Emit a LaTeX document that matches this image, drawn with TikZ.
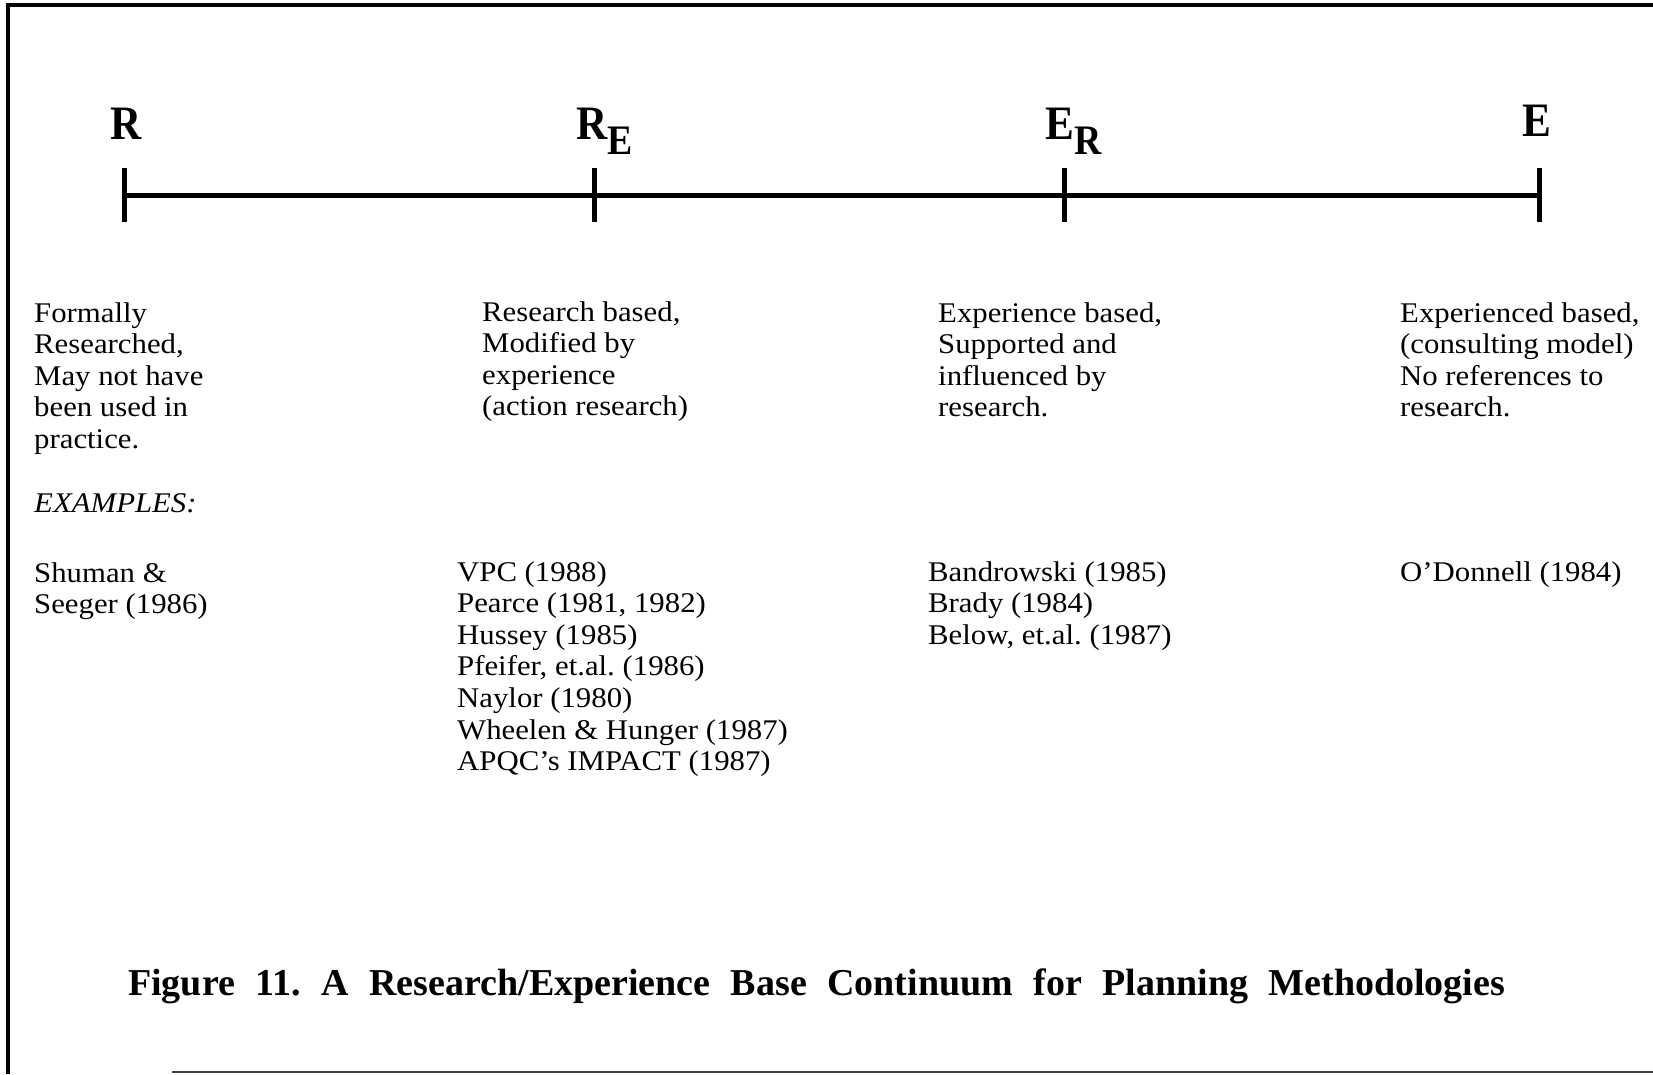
\documentclass[tikz,border=0pt]{standalone}
\usepackage{fontspec}
\setmainfont{Liberation Serif}[FakeStretch=1.08]
\newfontfamily\capfont{Liberation Serif}
\newfontfamily\labfont{Liberation Serif}[FakeStretch=0.9]
\frenchspacing
\begin{document}
\begin{tikzpicture}[x=1pt,y=-1pt,
  body/.style={anchor=base west,inner sep=0pt,font=\fontsize{28.5}{31.6}\selectfont},
  lab/.style={anchor=base west,inner sep=0pt,font=\labfont\bfseries\fontsize{48}{48}\selectfont},
  axisline/.style={line width=5pt},
  tickline/.style={line width=5pt},
  frameline/.style={line width=3.5pt}]
\useasboundingbox (0,0) rectangle (1653,1074);
% frame
\draw[frameline] (8,1074) -- (8,5) -- (1653,5);
\draw[line width=2.5pt,black!75] (172,1072) -- (1653,1072);
% axis
\coordinate (t1) at (124,195);
\coordinate (t2) at (594,195);
\coordinate (t3) at (1064,195);
\coordinate (t4) at (1539,195);
\draw[axisline] (t1) -- (t4);
\foreach \t in {t1,t2,t3,t4}{\draw[tickline] (\t) ++(0,-27) -- ++(0,54);}
% labels
\node[lab] (lR) at (110,139) {R};
\node[lab] (lRE) at (576,139) {R\raisebox{-15pt}{\fontsize{42}{42}\selectfont E}};
\node[lab] (lER) at (1045,139) {E\raisebox{-15pt}{\fontsize{42}{42}\selectfont R}};
\node[lab] (lE) at (1522,136) {E};
% column texts
\newcommand{\blk}[1]{\begin{tabular}[t]{@{}l@{}}#1\end{tabular}}
\node[body] (c1top) at (34,322) {\blk{Formally\\Researched,\\May not have\\been used in\\practice.}};
\node[body] (ex) at (34,512) {\textit{EXAMPLES:}};
\node[body] (c1list) at (34,582) {\blk{Shuman \&\\Seeger (1986)}};
\node[body] (c2top) at (482,321) {\blk{Research based,\\Modified by\\experience\\(action research)}};
\node[body] (c2list) at (457,581) {\blk{VPC (1988)\\Pearce (1981, 1982)\\Hussey (1985)\\Pfeifer, et.al. (1986)\\Naylor (1980)\\Wheelen \& Hunger (1987)\\APQC's IMPACT (1987)}};
\node[body] (c3top) at (938,322) {\blk{Experience based,\\Supported and\\influenced by\\research.}};
\node[body] (c3list) at (928,581) {\blk{Bandrowski (1985)\\Brady (1984)\\Below, et.al. (1987)}};
\node[body] (c4top) at (1400,322) {\blk{Experienced based,\\(consulting model)\\No references to\\research.}};
\node[body] (c4list) at (1400,581) {O'Donnell (1984)};
% caption
\node[anchor=base west,inner sep=0pt,font=\capfont\bfseries\fontsize{38}{38}\selectfont] (cap) at (128,995)
  {\makebox[1377pt][s]{Figure 11. A Research/Experience Base Continuum for Planning Methodologies}};
\end{tikzpicture}
\end{document}
